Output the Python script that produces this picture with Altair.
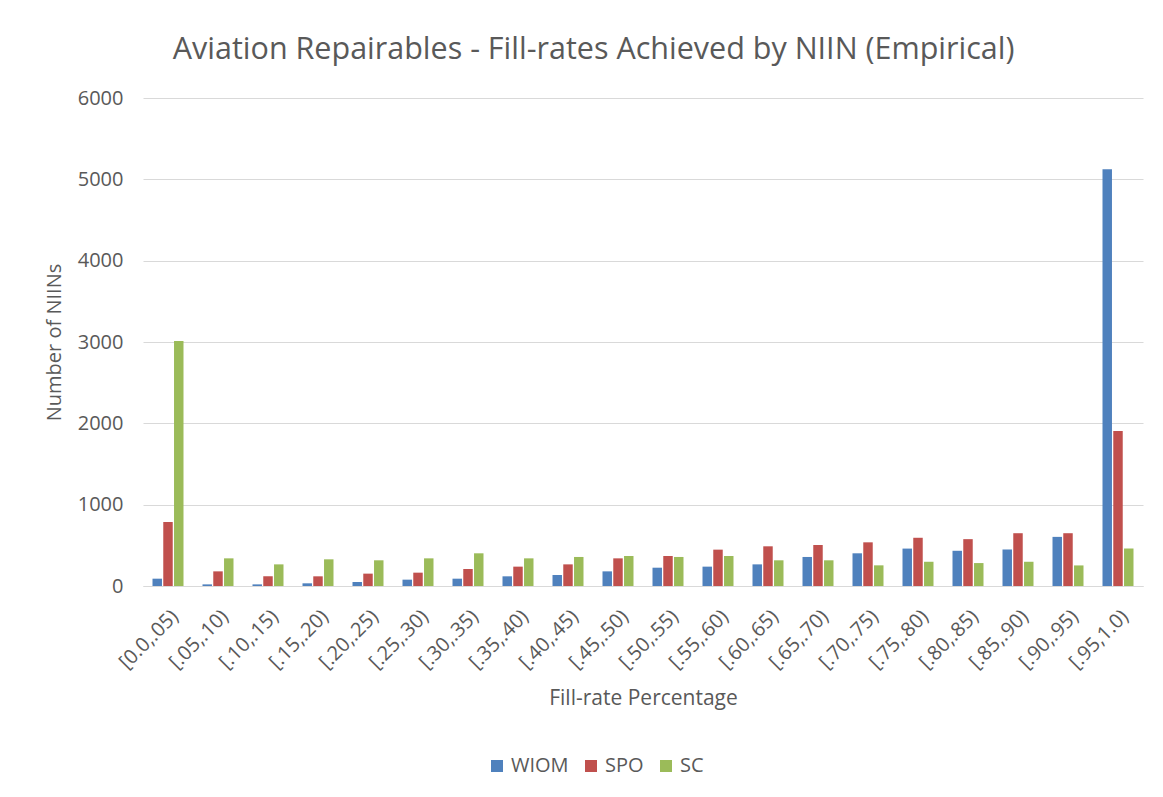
import altair as alt
import pandas as pd

categories = ["[0.0,.05)", "[.05,.10)", "[.10,.15)", "[.15,.20)", "[.20,.25)",
              "[.25,.30)", "[.30,.35)", "[.35,.40)", "[.40,.45)", "[.45,.50)",
              "[.50,.55)", "[.55,.60)", "[.60,.65)", "[.65,.70)", "[.70,.75)",
              "[.75,.80)", "[.80,.85)", "[.85,.90)", "[.90,.95)", "[.95,1.0)"]
series = ["WIOM", "SPO", "SC"]
wiom = [90, 20, 20, 33, 49, 78, 90, 119, 135, 180, 225, 238, 266, 357, 402, 460, 433, 449, 604, 5125]
spo = [787, 180, 119, 119, 152, 164, 209, 238, 266, 340, 369, 447, 488, 504, 537, 593, 576, 649, 649, 1906]
sc = [3012, 340, 266, 328, 316, 340, 402, 340, 357, 369, 357, 369, 316, 316, 254, 298, 282, 298, 253, 461]
colors = ["#4F81BD", "#C0504D", "#9BBB59"]

rows = []
for name, vals in zip(series, [wiom, spo, sc]):
    for c, v in zip(categories, vals):
        rows.append({"range": c, "series": name, "count": v})
df = pd.DataFrame(rows)

FONT = "Open Sans"
GREY = "#595959"

chart = alt.Chart(df).mark_bar().encode(
    x=alt.X("range:N", sort=categories,
            scale=alt.Scale(paddingInner=0.38, paddingOuter=0.19),
            axis=alt.Axis(title="Fill-rate Percentage", labelAngle=-45,
                          labelFontSize=20, labelColor=GREY, labelPadding=20,
                          ticks=False, domainColor="#d9d9d9", domainWidth=1,
                          titleFontSize=21, titleColor=GREY, titleFontWeight="normal",
                          titlePadding=15, labelFont=FONT, titleFont=FONT)),
    xOffset=alt.XOffset("series:N", sort=series, scale=alt.Scale(paddingInner=0.12)),
    y=alt.Y("count:Q", scale=alt.Scale(domain=[0, 6000]),
            axis=alt.Axis(title="Number of NIINs", values=[0, 1000, 2000, 3000, 4000, 5000, 6000],
                          format="d",
                          labelFontSize=20, labelColor=GREY, labelPadding=20,
                          ticks=False, domain=False, gridColor="#d9d9d9", gridWidth=1,
                          titleFontSize=20, titleColor=GREY, titleFontWeight="normal",
                          titlePadding=13, labelFont=FONT, titleFont=FONT)),
    color=alt.Color("series:N", sort=series,
                    scale=alt.Scale(domain=series, range=colors),
                    legend=alt.Legend(title=None, orient="none", direction="horizontal",
                                      legendX=344, legendY=658, symbolType="square",
                                      symbolSize=144, symbolStrokeWidth=0,
                                      labelFontSize=20, labelColor=GREY, labelFont=FONT,
                                      columnPadding=12, labelOffset=4)),
).properties(
    width=1000, height=488,
    title=alt.TitleParams("Aviation Repairables - Fill-rates Achieved by NIIN (Empirical)",
                          fontSize=30.5, font=FONT, color=GREY, fontWeight="normal",
                          anchor="middle", frame="bounds", offset=23),
    autosize=alt.AutoSizeParams(type="none"),
    padding={"left": 135, "top": 90, "right": 12, "bottom": 195},
    background="white",
).configure_view(stroke=None)

chart.save("out.html", embed_options={"renderer": "svg", "actions": False})
